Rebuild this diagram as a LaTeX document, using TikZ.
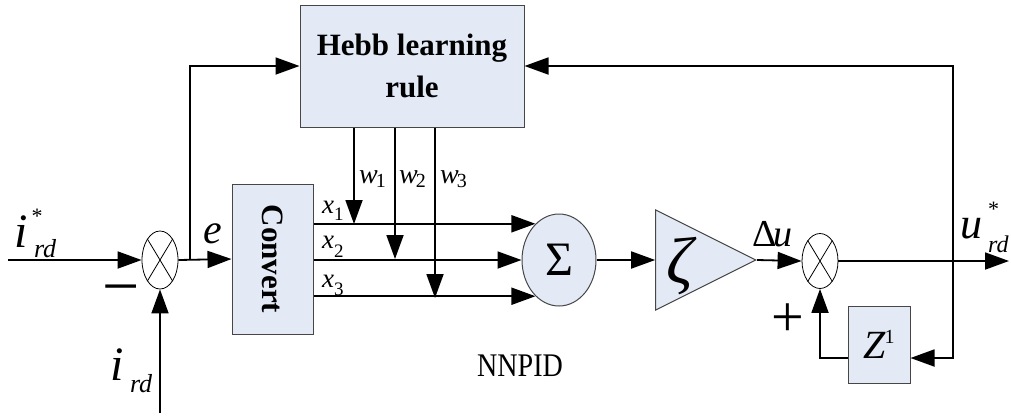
\documentclass[tikz,border=0pt]{standalone}
\usepackage{fontspec}
\setmainfont{Liberation Serif}
\usetikzlibrary{arrows.meta,shapes.geometric,calc}
\definecolor{boxfill}{RGB}{227,234,246}
\definecolor{boxline}{RGB}{70,70,70}
\newcommand\fs[1]{\fontsize{#1}{#1}\selectfont}

\begin{document}
\begin{tikzpicture}[x=1pt,y=-1pt,
  block/.style={draw=boxline, line width=1pt, fill=boxfill, inner sep=0pt},
  junction/.style={draw=black, line width=0.8pt, ellipse, inner sep=0pt,
                   minimum width=36pt, minimum height=58pt},
  wire/.style={line width=1.8pt},
  arr/.style={wire, -{Triangle[length=24pt,width=17pt]}},
  lbl/.style={inner sep=0pt, anchor=base west},
]
\useasboundingbox (0,0) rectangle (1011,416);

% blocks
\node[block, minimum width=224pt, minimum height=122pt, align=center,
      font=\fontsize{31}{42}\selectfont\bfseries] (hebb) at (412,66) {Hebb learning\\rule};
\node[block, minimum width=81pt, minimum height=150pt] (conv) at (272.5,259)
      {\rotatebox{-90}{\fs{31}\bfseries Convert}};
\node[block, ellipse, minimum width=74pt, minimum height=92pt] (sig) at (559,260) {\fs{48}Σ};
\node[block, isosceles triangle, isosceles triangle stretches,
      minimum width=100pt, minimum height=100pt, anchor=apex] (gain) at (757,260) {};
\node (zeta) at (680,266) {\fs{66}\itshape ζ};
\node[block, minimum width=62pt, minimum height=77pt] (zd) at (879,344.5)
      {\fs{40}\itshape Z\kern-1pt\raisebox{15pt}{\fs{20}\upshape 1}};

% summing junctions
\node[junction] (sum1) at (160,260) {};
\node[junction, minimum height=55pt] (sum2) at (820,261) {};
\foreach \j in {sum1,sum2}
  \draw[line width=0.8pt] (\j.59) -- (\j.239) (\j.121) -- (\j.301);

% points on the wires
\coordinate (in1) at (8,260);
\coordinate (in2) at (160,413);
\coordinate (br1) at (190,260);
\coordinate (br2) at (953,261);
\coordinate (fb) at (953,358);
\coordinate (out) at (1009,261);
\coordinate (w1) at (354,224);
\coordinate (w2) at (395,259);
\coordinate (w3) at (435,298);

% signal path
\draw[arr] (in1) -- (sum1.west);
\draw[arr] (in2) -- (sum1.south);
\draw[arr] (sum1.east) -- (conv.west);
\draw[arr] (br1) |- (hebb.west);
\draw[arr] (conv.east |- sig.123) -- (sig.123);
\draw[arr] (conv.east |- sig.west) -- (sig.west);
\draw[arr] (conv.east |- sig.237) -- (sig.237);
\foreach \w in {w1,w2,w3}
  \draw[arr] (hebb.south -| \w) -- (\w);
\draw[arr] (sig.east) -- (gain.west);
\draw[arr] (gain.apex) -- (sum2.west);
\draw[arr] (sum2.east) -- (out);
\draw[arr] (br2) |- (hebb.east);
\draw[arr] (br2) -- (fb) -- (fb -| zd.east);
\draw[arr] (zd.west |- fb) -| (sum2.south);

% labels
\node[lbl] (lrefi) at (14,247)
  {\fs{48}\itshape i\rlap{\hspace{4pt}\raisebox{24pt}{\fs{22}\upshape *}}\raisebox{-10pt}{\fs{26} rd}};
\node[lbl] (lmeas) at (110,380) {\fs{48}\itshape i\raisebox{-12pt}{\fs{26} rd}};
\node[lbl] (lerr) at (203,243) {\fs{42}\itshape e};
\node[lbl] (ldu) at (752,246) {\fs{38}Δ\kern-3pt\itshape u};
\node[lbl] (lout) at (960,238)
  {\fs{44}\itshape u\rlap{\hspace{6pt}\raisebox{22pt}{\fs{22}\upshape *}}\raisebox{-14pt}{\fs{24} rd}};
\node[lbl] (lw1) at (359,183) {\fs{28}\itshape w\kern-2pt\raisebox{-4pt}{\fs{20}\upshape 1}};
\node[lbl] (lw2) at (399,183) {\fs{28}\itshape w\kern-2pt\raisebox{-4pt}{\fs{20}\upshape 2}};
\node[lbl] (lw3) at (440,183) {\fs{28}\itshape w\kern-2pt\raisebox{-4pt}{\fs{20}\upshape 3}};
\node[lbl] (lx1) at (322,213) {\fs{27}\itshape x\raisebox{-7pt}{\fs{19}\upshape 1}};
\node[lbl] (lx2) at (322,248) {\fs{27}\itshape x\raisebox{-9pt}{\fs{19}\upshape 2}};
\node[lbl] (lx3) at (322,287) {\fs{27}\itshape x\raisebox{-8pt}{\fs{19}\upshape 3}};
\node (minus) at (121,297) {\fs{66}−};
\node (plus) at (788,320) {\fs{58}+};
\node (nnpid) at (520,366) {\scalebox{0.85}[1]{\fs{33}NNPID}};
\end{tikzpicture}
\end{document}
